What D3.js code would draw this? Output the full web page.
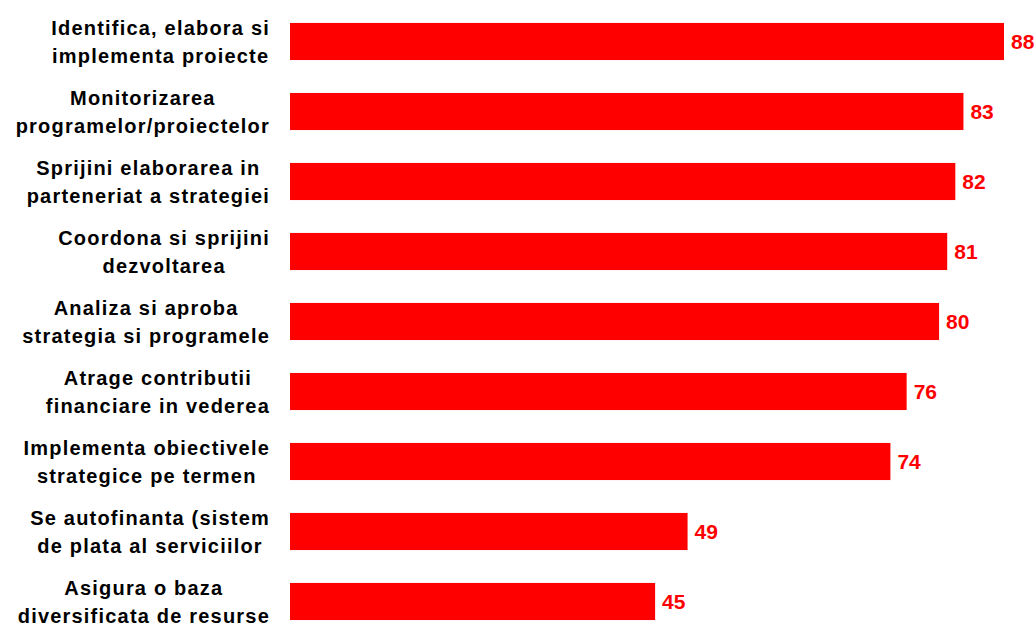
<!DOCTYPE html>
<html>
<head>
<meta charset="utf-8">
<script src="https://cdn.jsdelivr.net/npm/d3@7"></script>
<style>
  html, body { margin: 0; padding: 0; background: #fff; }
  svg { display: block; font-family: "Liberation Sans", Arial, sans-serif; }
</style>
</head>
<body>
<div id="chart"></div>
<script>
// category labels (already wrapped as in the original) and values
const labelLines = [
    ["Identifica, elabora si", "implementa proiecte"],
    ["Monitorizarea", "programelor/proiectelor"],
    ["Sprijini elaborarea in", "parteneriat a strategiei"],
    ["Coordona si sprijini", "dezvoltarea"],
    ["Analiza si aproba", "strategia si programele"],
    ["Atrage contributii", "financiare in vederea"],
    ["Implementa obiectivele", "strategice pe termen"],
    ["Se autofinanta (sistem", "de plata al serviciilor"],
    ["Asigura o baza", "diversificata de resurse"]
];
const values = [88, 83, 82, 81, 80, 76, 74, 49, 45];
const categories = labelLines.map(d => d.join(" "));

const width = 1035, height = 623;

const svg = d3.select("#chart").append("svg")
    .attr("width", width)
    .attr("height", height);

const x = d3.scaleLinear().domain([0, 88]).range([290, 1004]);
const y = d3.scaleBand()
    .domain(categories)
    .range([6.5, 636.5])
    .paddingInner(0.47)
    .paddingOuter(0.235);

// bars
svg.selectAll("rect.bar")
    .data(values)
    .join("rect")
    .attr("class", "bar")
    .attr("x", x(0))
    .attr("y", (d, i) => y(categories[i]))
    .attr("width", d => x(d) - x(0))
    .attr("height", y.bandwidth())
    .attr("fill", "#ff0000");

// value labels
svg.selectAll("text.val")
    .data(values)
    .join("text")
    .attr("class", "val")
    .attr("x", d => x(d) + 7)
    .attr("y", (d, i) => y(categories[i]) + y.bandwidth() / 2)
    .attr("dy", "0.38em")
    .attr("fill", "#ff0000")
    .attr("font-weight", "bold")
    .style("font-size", "21px")
    .text(d => d);

// category labels: lines centred on each other, block right-aligned to axis
const labelRight = 270;
const lineGap = 28;
labelLines.forEach((lines, i) => {
    const g = svg.append("g");
    const cy = y(categories[i]) + y.bandwidth() / 2;
    const texts = lines.map((t, k) => g.append("text")
        .attr("y", cy + (k - (lines.length - 1) / 2) * lineGap)
        .attr("dy", "0.36em")
        .attr("text-anchor", "middle")
        .attr("font-weight", "bold")
        .attr("fill", "#000")
        .style("font-size", "20px")
        .style("letter-spacing", "1.2px")
        .text(t));
    const maxW = d3.max(texts, t => t.node().getComputedTextLength());
    texts.forEach(t => t.attr("x", labelRight - maxW / 2));
});
</script>
</body>
</html>
